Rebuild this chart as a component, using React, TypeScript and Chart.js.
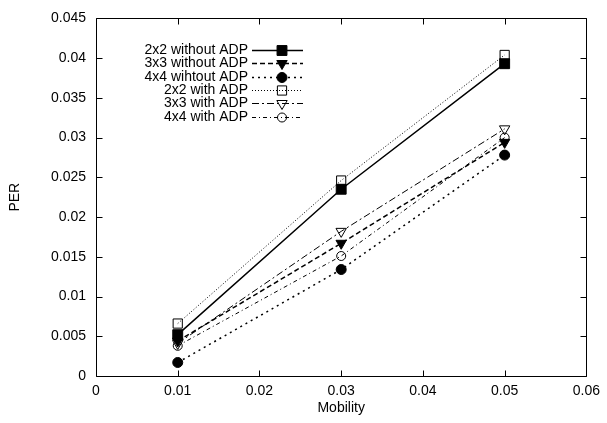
import React, { useEffect, useRef } from 'react';
import { Chart, registerables } from 'chart.js';

Chart.register(...registerables);

const mobility = [0.01, 0.03, 0.05];
const seriesNames = [
  '2x2 without ADP',
  '3x3 without ADP',
  '4x4 wihtout ADP',
  '2x2 with ADP',
  '3x3 with ADP',
  '4x4 with ADP',
];
const per2x2NoAdp = [0.0052, 0.0235, 0.0393];
const per3x3NoAdp = [0.0044, 0.0167, 0.0294];
const per4x4NoAdp = [0.0017, 0.0134, 0.0278];
const per2x2Adp = [0.0066, 0.0246, 0.0404];
const per3x3Adp = [0.0041, 0.0182, 0.0311];
const per4x4Adp = [0.0038, 0.0151, 0.03];
const xTickValues = [0, 0.01, 0.02, 0.03, 0.04, 0.05, 0.06];
const yTickValues = [0, 0.005, 0.01, 0.015, 0.02, 0.025, 0.03, 0.035, 0.04, 0.045];
const xTitle = 'Mobility';
const yTitle = 'PER';

const FONT = '"Liberation Sans", Arial, Helvetica, sans-serif';
const FS = 14;

type Style = {
  width: number;
  dash: number[];
  point: 'rect' | 'triangle' | 'circle';
  rot: number;
  radius: number;
  filled: boolean;
};

const styles: Style[] = [
  { width: 1.5, dash: [], point: 'rect', rot: 0, radius: 7, filled: true },
  { width: 1.5, dash: [5, 3], point: 'triangle', rot: 180, radius: 6, filled: true },
  { width: 1.5, dash: [2, 4], point: 'circle', rot: 0, radius: 5, filled: true },
  { width: 1, dash: [1, 2], point: 'rect', rot: 0, radius: 6.5, filled: false },
  { width: 1, dash: [7, 3, 2, 3], point: 'triangle', rot: 180, radius: 6, filled: false },
  { width: 1, dash: [4, 3, 1, 3], point: 'circle', rot: 0, radius: 4.5, filled: false },
];

const seriesData = [per2x2NoAdp, per3x3NoAdp, per4x4NoAdp, per2x2Adp, per3x3Adp, per4x4Adp];

function drawMarker(ctx: CanvasRenderingContext2D, s: Style, x: number, y: number) {
  ctx.save();
  ctx.setLineDash([]);
  ctx.lineWidth = 1;
  ctx.strokeStyle = '#000';
  ctx.fillStyle = '#000';
  ctx.beginPath();
  if (s.point === 'rect') {
    const h = Math.SQRT1_2 * s.radius;
    ctx.rect(x - h, y - h, 2 * h, 2 * h);
  } else if (s.point === 'circle') {
    ctx.arc(x, y, s.radius, 0, Math.PI * 2);
  } else {
    const r = s.radius;
    const rad = (s.rot * Math.PI) / 180;
    for (let i = 0; i < 3; i++) {
      const a = rad + (i * 2 * Math.PI) / 3;
      const px = x + Math.sin(a) * r;
      const py = y - Math.cos(a) * r;
      if (i === 0) ctx.moveTo(px, py);
      else ctx.lineTo(px, py);
    }
    ctx.closePath();
  }
  if (s.filled) ctx.fill();
  ctx.stroke();
  ctx.restore();
}

const framePlugin = {
  id: 'gnuFrame',
  afterDraw(chart: any) {
    const { ctx, chartArea, scales } = chart;
    const { left, right, top, bottom } = chartArea;
    const xs = scales.x;
    const ys = scales.y;
    ctx.save();
    ctx.strokeStyle = '#000';
    ctx.lineWidth = 1;
    ctx.setLineDash([]);
    const L = Math.round(left) + 0.5;
    const R = Math.round(right) + 0.5;
    const T = Math.round(top) + 0.5;
    const B = Math.round(bottom) + 0.5;
    ctx.beginPath();
    ctx.rect(L, T, R - L, B - T);
    ctx.stroke();
    const tl = 6;
    ctx.beginPath();
    xTickValues.forEach((v) => {
      const px = Math.round(xs.getPixelForValue(v)) + 0.5;
      ctx.moveTo(px, B);
      ctx.lineTo(px, B - tl);
      ctx.moveTo(px, T);
      ctx.lineTo(px, T + tl);
    });
    yTickValues.forEach((v) => {
      const py = Math.round(ys.getPixelForValue(v)) + 0.5;
      ctx.moveTo(L, py);
      ctx.lineTo(L + tl, py);
      ctx.moveTo(R, py);
      ctx.lineTo(R - tl, py);
    });
    ctx.stroke();

    // legend
    const textRight = 248;
    const lineStart = 252;
    const lineEnd = 303;
    const markerX = 282;
    const firstRow = 50;
    const rowStep = 13.3;
    ctx.font = `${FS}px ${FONT}`;
    ctx.fillStyle = '#000';
    ctx.textAlign = 'right';
    ctx.textBaseline = 'middle';
    seriesNames.forEach((name, i) => {
      const y = Math.round(firstRow + i * rowStep);
      ctx.fillText(name, textRight, y);
      const s = styles[i];
      ctx.save();
      ctx.lineWidth = s.width;
      ctx.setLineDash(s.dash);
      ctx.beginPath();
      ctx.moveTo(lineStart, y + 0.5);
      ctx.lineTo(lineEnd, y + 0.5);
      ctx.stroke();
      ctx.restore();
      drawMarker(ctx, s, markerX, y + 0.5);
    });
    ctx.restore();
  },
};

export default function App() {
  const ref = useRef<HTMLCanvasElement | null>(null);
  useEffect(() => {
    if (!ref.current) return;
    const datasets = seriesData.map((vals, i) => {
      const s = styles[i];
      return {
        label: seriesNames[i],
        data: mobility.map((m, j) => ({ x: m, y: vals[j] })),
        borderColor: '#000',
        borderWidth: s.width,
        borderDash: s.dash,
        pointStyle: s.point,
        pointRotation: s.rot,
        pointRadius: s.radius,
        pointHoverRadius: s.radius,
        pointBorderWidth: 1,
        pointBorderColor: '#000',
        pointBackgroundColor: s.filled ? '#000' : 'rgba(0,0,0,0)',
        backgroundColor: s.filled ? '#000' : 'rgba(0,0,0,0)',
        fill: false,
        tension: 0,
      };
    });
    const chart = new Chart(ref.current, {
      type: 'line',
      data: { datasets },
      options: {
        animation: false,
        responsive: true,
        maintainAspectRatio: false,
        devicePixelRatio: 1,
        layout: { padding: { top: 10, right: 16, left: 0, bottom: 0 } },
        plugins: {
          legend: { display: false },
          tooltip: { enabled: false },
        },
        scales: {
          x: {
            type: 'linear',
            min: 0,
            max: 0.06,
            afterFit: (scale: any) => {
              scale.height = 47;
            },
            afterBuildTicks: (scale: any) => {
              scale.ticks = xTickValues.map((v) => ({ value: v }));
            },
            grid: { display: false, drawTicks: false, tickLength: 0 },
            border: { display: false },
            ticks: {
              color: '#000',
              font: { family: FONT, size: FS },
              padding: 7,
              maxRotation: 0,
              autoSkip: false,
              callback: (v: any) => String(Number(Number(v).toFixed(3))),
            },
            title: {
              display: true,
              text: xTitle,
              color: '#000',
              font: { family: FONT, size: FS },
              padding: { top: 0, bottom: 6.5 },
            },
          },
          y: {
            type: 'linear',
            min: 0,
            max: 0.045,
            afterFit: (scale: any) => {
              scale.width = 96;
            },
            afterBuildTicks: (scale: any) => {
              scale.ticks = yTickValues.map((v) => ({ value: v }));
            },
            grid: { display: false, drawTicks: false, tickLength: 0 },
            border: { display: false },
            ticks: {
              color: '#000',
              font: { family: FONT, size: FS },
              padding: 10,
              autoSkip: false,
              callback: (v: any) => String(Number(Number(v).toFixed(3))),
            },
            title: {
              display: true,
              text: yTitle,
              color: '#000',
              font: { family: FONT, size: FS },
              padding: { top: 6.5, bottom: 0 },
            },
          },
        },
      },
      plugins: [framePlugin],
    });
    return () => chart.destroy();
  }, []);
  return (
    <div style={{ position: 'fixed', left: 0, top: 0, width: 607, height: 423, background: '#fff' }}>
      <canvas ref={ref} />
    </div>
  );
}
